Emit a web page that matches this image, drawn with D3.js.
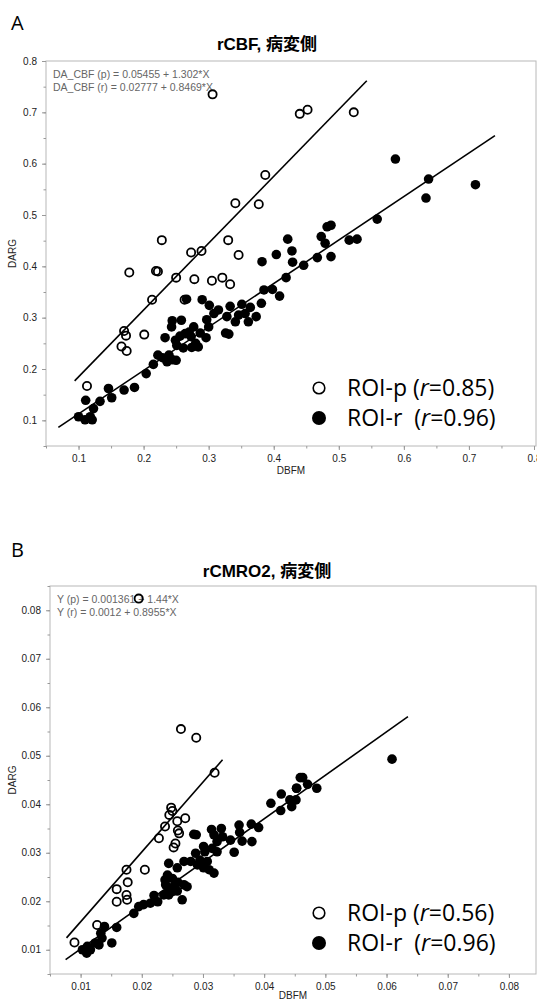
<!DOCTYPE html>
<html>
<head>
<meta charset="utf-8">
<script src="https://cdn.jsdelivr.net/npm/d3@7"></script>
<style>
  body { margin: 0; background: #fff; }
  svg { display: block; }
  text { white-space: pre; }
</style>
</head>
<body>
<div id="chart"></div>
<script>
// ---- data ----
// panel A: rCBF (DBFM vs DARG)
const cbfRoiP = [
  [0.306, 0.735], [0.387, 0.578], [0.341, 0.523], [0.377, 0.521], [0.228, 0.451],
  [0.330, 0.451], [0.273, 0.427], [0.289, 0.430], [0.346, 0.422], [0.178, 0.388],
  [0.219, 0.391], [0.222, 0.390], [0.250, 0.378], [0.278, 0.375], [0.305, 0.372],
  [0.321, 0.378], [0.333, 0.365], [0.213, 0.335], [0.263, 0.335], [0.170, 0.274],
  [0.173, 0.265], [0.201, 0.267], [0.166, 0.244], [0.174, 0.235], [0.113, 0.167],
  [0.440, 0.697], [0.452, 0.705], [0.523, 0.700]
];
const cbfRoiR = [
  [0.4215, 0.453], [0.404, 0.423], [0.382, 0.409], [0.428, 0.430], [0.429, 0.408],
  [0.290, 0.335], [0.301, 0.324], [0.266, 0.336], [0.385, 0.354], [0.398, 0.355],
  [0.409, 0.342], [0.419, 0.378], [0.381, 0.328], [0.333, 0.322], [0.351, 0.326],
  [0.364, 0.320], [0.315, 0.315], [0.308, 0.308], [0.328, 0.302], [0.346, 0.305],
  [0.356, 0.308], [0.373, 0.302], [0.361, 0.292], [0.341, 0.292], [0.297, 0.296],
  [0.300, 0.282], [0.244, 0.294], [0.258, 0.295], [0.243, 0.282], [0.277, 0.282],
  [0.287, 0.270], [0.296, 0.261], [0.270, 0.272], [0.273, 0.263], [0.264, 0.269],
  [0.256, 0.264], [0.249, 0.256], [0.233, 0.261], [0.251, 0.246], [0.280, 0.250],
  [0.284, 0.243], [0.274, 0.242], [0.261, 0.241], [0.326, 0.270], [0.331, 0.268],
  [0.222, 0.227], [0.229, 0.222], [0.239, 0.227], [0.244, 0.218], [0.250, 0.217],
  [0.236, 0.214], [0.215, 0.209], [0.204, 0.191], [0.186, 0.164], [0.170, 0.159],
  [0.146, 0.162], [0.151, 0.144], [0.133, 0.137], [0.111, 0.139], [0.123, 0.123],
  [0.118, 0.107], [0.100, 0.107], [0.110, 0.101], [0.121, 0.101],
  [0.587, 0.609], [0.638, 0.570], [0.710, 0.559], [0.634, 0.533], [0.559, 0.492],
  [0.488, 0.480], [0.482, 0.477], [0.473, 0.458], [0.479, 0.445], [0.516, 0.451],
  [0.528, 0.453], [0.488, 0.419], [0.467, 0.417], [0.446, 0.402]
];
const cbfFitP = [0.05455, 1.302];
const cbfFitR = [0.02777, 0.8469];
const cbfFitRangeP = [0.094, 0.543];
const cbfFitRangeR = [0.069, 0.740];
const cbfTicks = [0.1, 0.2, 0.3, 0.4, 0.5, 0.6, 0.7, 0.8];
const cbfMinorTicks = d3.range(0.05, 0.801, 0.05);
const cbfEquations = ["DA_CBF (p) = 0.05455 + 1.302*X", "DA_CBF (r) = 0.02777 + 0.8469*X"];
const cbfLegend = [["ROI-p (", "0.85)"], ["ROI-r  (", "0.96)"]];

// panel B: rCMRO2
const cmroRoiP = [
  [0.0264, 0.0555], [0.0289, 0.0537], [0.0319, 0.0465], [0.0248, 0.0393], [0.0250, 0.0386],
  [0.0245, 0.0378], [0.0271, 0.0371], [0.0258, 0.0365], [0.0238, 0.0354], [0.0259, 0.0346],
  [0.0261, 0.0340], [0.0228, 0.0330], [0.0255, 0.0319], [0.0252, 0.0311], [0.0175, 0.0265],
  [0.0205, 0.0265], [0.0177, 0.0239], [0.0159, 0.0225], [0.0175, 0.0213], [0.0176, 0.0203],
  [0.0159, 0.0199], [0.0127, 0.0151], [0.0090, 0.0115], [0.0195, 0.0824]
];
const cmroRoiR = [
  [0.0459, 0.0455], [0.0453, 0.0433], [0.0428, 0.0421], [0.0411, 0.0402], [0.0442, 0.0409],
  [0.0427, 0.0387], [0.0359, 0.0357], [0.0379, 0.0359], [0.0391, 0.0352], [0.0360, 0.0342],
  [0.0364, 0.0324], [0.0380, 0.0323], [0.0330, 0.0350], [0.0314, 0.0348], [0.0318, 0.0337],
  [0.0332, 0.0333], [0.0345, 0.0326], [0.0323, 0.0323], [0.0285, 0.0338], [0.0289, 0.0337],
  [0.0351, 0.0301], [0.0315, 0.0309], [0.0323, 0.0302], [0.0303, 0.0302], [0.0288, 0.0299],
  [0.0295, 0.0285], [0.0307, 0.0282], [0.0280, 0.0282], [0.0291, 0.0275], [0.0301, 0.0269],
  [0.0318, 0.0258], [0.0310, 0.0265], [0.0269, 0.0282], [0.0244, 0.0278], [0.0258, 0.0269],
  [0.0242, 0.0254], [0.0250, 0.0247], [0.0238, 0.0244], [0.0259, 0.0239], [0.0269, 0.0234],
  [0.0274, 0.0230], [0.0252, 0.0230], [0.0258, 0.0221], [0.0244, 0.0213], [0.0236, 0.0213],
  [0.0250, 0.0220], [0.0266, 0.0203], [0.0220, 0.0212], [0.0214, 0.0196], [0.0195, 0.0189],
  [0.0203, 0.0193], [0.0187, 0.0175], [0.0159, 0.0146], [0.0139, 0.0148], [0.0133, 0.0134],
  [0.0124, 0.0114], [0.0135, 0.0124], [0.0151, 0.0114], [0.0111, 0.0107], [0.0103, 0.0100],
  [0.0110, 0.0093], [0.0116, 0.0100], [0.0130, 0.0110], [0.0239, 0.0234], [0.0244, 0.0223],
  [0.0226, 0.0199], [0.0301, 0.0313],
  [0.0609, 0.0493], [0.0463, 0.0455], [0.0471, 0.0441], [0.0486, 0.0433], [0.0453, 0.0433],
  [0.0452, 0.0409], [0.0445, 0.0395]
];
const cmroFitP = [0.001361, 1.44];
const cmroFitR = [0.0012, 0.8955];
const cmroFitRangeP = [0.0077, 0.0332];
const cmroFitRangeR = [0.00755, 0.0635];
const cmroTicks = [0.01, 0.02, 0.03, 0.04, 0.05, 0.06, 0.07, 0.08];
const cmroMinorTicks = d3.range(0.005, 0.0851, 0.005);
const cmroEquations = ["Y (p) = 0.001361 + 1.44*X", "Y (r) = 0.0012 + 0.8955*X"];
const cmroLegend = [["ROI-p (", "0.56)"], ["ROI-r  (", "0.96)"]];

// ---- drawing ----
const W = 537, H = 1002;
const axisFont = "'Liberation Sans', Arial, sans-serif";
const titleFont = "'Liberation Sans', 'Noto Sans CJK JP', sans-serif";
const legendFont = "'Open Sans', sans-serif";

const svg = d3.select("#chart").append("svg")
    .attr("width", W)
    .attr("height", H);

drawPanel({
    letter: "A", letterY: 30,
    title: "rCBF, 病変側", titleY: 50,
    left: 46, top: 61, bottom: 446, xEnd: 534, frameRight: 536,
    xDomain: [0.05, 0.8], yDomain: [0.05, 0.8],
    ticks: cbfTicks, minorTicks: cbfMinorTicks, fmt: d3.format(".1f"),
    roiP: cbfRoiP, roiR: cbfRoiR,
    fits: [[cbfFitP, cbfFitRangeP], [cbfFitR, cbfFitRangeR]],
    equations: cbfEquations, legend: cbfLegend, legendY: 388
});

drawPanel({
    letter: "B", letterY: 557,
    title: "rCMRO2, 病変側", titleY: 577,
    left: 50, top: 586, bottom: 974, xEnd: 539.5, frameRight: 536,
    xDomain: [0.005, 0.085], yDomain: [0.005, 0.085],
    ticks: cmroTicks, minorTicks: cmroMinorTicks, fmt: d3.format(".2f"),
    roiP: cmroRoiP, roiR: cmroRoiR,
    fits: [[cmroFitP, cmroFitRangeP], [cmroFitR, cmroFitRangeR]],
    equations: cmroEquations, legend: cmroLegend, legendY: 913
});

function drawPanel(p) {
    const x = d3.scaleLinear().domain(p.xDomain).range([p.left, p.xEnd]);
    const y = d3.scaleLinear().domain(p.yDomain).range([p.bottom, p.top]);
    const g = svg.append("g");

    // panel letter and title
    g.append("text")
        .attr("x", 11).attr("y", p.letterY)
        .attr("font-family", legendFont).attr("font-size", 20)
        .text(p.letter);
    g.append("text")
        .attr("x", 267).attr("y", p.titleY)
        .attr("text-anchor", "middle")
        .attr("font-family", titleFont).attr("font-size", 17).attr("font-weight", "bold")
        .text(p.title);

    // frame
    g.append("rect")
        .attr("x", p.left).attr("y", p.top)
        .attr("width", p.frameRight - p.left).attr("height", p.bottom - p.top)
        .attr("fill", "none").attr("stroke", "#b8b8b8");

    // axes: major + minor ticks
    const styleAxis = sel => {
        sel.select(".domain").remove();
        sel.selectAll("line").attr("stroke", "#999");
        sel.selectAll("text").attr("fill", "#222")
            .attr("font-family", axisFont).attr("font-size", 10);
    };
    g.append("g").attr("transform", `translate(0,${p.bottom})`)
        .call(d3.axisBottom(x).tickValues(p.minorTicks).tickSize(2.5).tickFormat(""))
        .call(styleAxis);
    g.append("g").attr("transform", `translate(0,${p.bottom})`)
        .call(d3.axisBottom(x).tickValues(p.ticks).tickSize(4).tickPadding(5).tickFormat(p.fmt))
        .call(styleAxis);
    g.append("g").attr("transform", `translate(${p.left},0)`)
        .call(d3.axisLeft(y).tickValues(p.minorTicks).tickSize(2.5).tickFormat(""))
        .call(styleAxis);
    g.append("g").attr("transform", `translate(${p.left},0)`)
        .call(d3.axisLeft(y).tickValues(p.ticks).tickSize(4).tickPadding(5).tickFormat(p.fmt))
        .call(styleAxis);

    // axis titles
    g.append("text")
        .attr("x", (p.left + 536) / 2).attr("y", Math.min(p.bottom + 28, H - 3))
        .attr("text-anchor", "middle")
        .attr("font-family", axisFont).attr("font-size", 10).attr("fill", "#222")
        .text("DBFM");
    g.append("text")
        .attr("transform", `translate(16,${(p.top + p.bottom) / 2}) rotate(-90)`)
        .attr("text-anchor", "middle")
        .attr("font-family", axisFont).attr("font-size", 10).attr("fill", "#222")
        .text("DARG");

    // fit equations
    p.equations.forEach((eq, i) => {
        g.append("text")
            .attr("x", p.left + 7).attr("y", p.top + 17 + i * 12.5)
            .attr("font-family", axisFont).attr("font-size", 10.5).attr("fill", "#666")
            .text(eq);
    });

    // regression lines
    const line = d3.line().x(d => x(d[0])).y(d => y(d[1]));
    p.fits.forEach(([coef, range]) => {
        g.append("path")
            .attr("d", line(range.map(v => [v, coef[0] + coef[1] * v])))
            .attr("stroke", "#000").attr("stroke-width", 1.6).attr("fill", "none");
    });

    // points
    g.append("g").selectAll("circle")
        .data(p.roiP).enter().append("circle")
        .attr("cx", d => x(d[0])).attr("cy", d => y(d[1]))
        .attr("r", 4.1)
        .attr("fill", "none").attr("stroke", "#000").attr("stroke-width", 1.8);
    g.append("g").selectAll("circle")
        .data(p.roiR).enter().append("circle")
        .attr("cx", d => x(d[0])).attr("cy", d => y(d[1]))
        .attr("r", 4.8)
        .attr("fill", "#000");

    // legend
    p.legend.forEach((item, i) => {
        const cy = p.legendY + i * 30;
        g.append("circle")
            .attr("cx", 319).attr("cy", cy)
            .attr("r", i === 0 ? 5.8 : 7)
            .attr("fill", i === 0 ? "#fff" : "#000")
            .attr("stroke", "#000").attr("stroke-width", i === 0 ? 1.6 : 0);
        const t = g.append("text")
            .attr("x", 347).attr("y", cy + 8)
            .attr("font-family", legendFont).attr("font-size", 23).attr("fill", "#000");
        t.append("tspan").text(item[0]);
        t.append("tspan").attr("font-style", "italic").text("r");
        t.append("tspan").text("=" + item[1]);
    });
}
</script>
</body>
</html>
